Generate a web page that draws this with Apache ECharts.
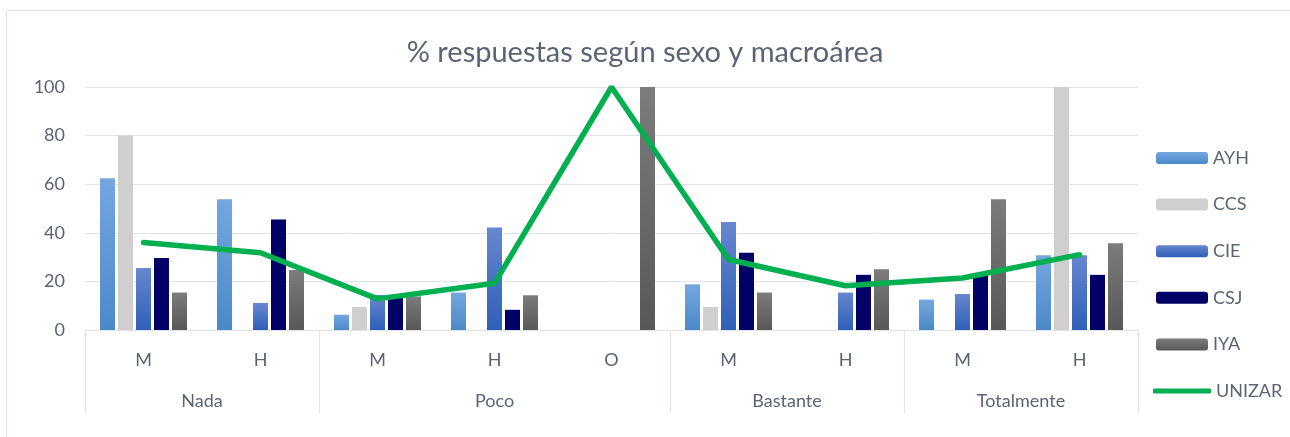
<!DOCTYPE html>
<html>
<head>
<meta charset="utf-8">
<script src="https://cdn.jsdelivr.net/npm/echarts@6/dist/echarts.min.js"></script>
<style>
  html, body { margin: 0; padding: 0; background: #fff; }
  #chart { width: 1290px; height: 437px; }
</style>
</head>
<body>
<div id="chart"></div>
<script>
// datos
const categories = ['M', 'H', 'M', 'H', 'O', 'M', 'H', 'M', 'H'];
const groups = ['Nada', 'Poco', 'Bastante', 'Totalmente'];
const groupSizes = [2, 3, 2, 2];
const yTicks = [0, 20, 40, 60, 80, 100];

const AYH = [62.5, 53.8, 6.3, 15.4, 0, 18.8, 0, 12.5, 30.8];
const CCS = [80, 0, 9.5, 0, 0, 9.5, 0, 0, 100];
const CIE = [25.5, 11.1, 14.4, 42.2, 0, 44.4, 15.4, 14.8, 30.8];
const CSJ = [29.6, 45.5, 13.6, 8.3, 0, 31.8, 22.7, 23, 22.7];
const IYA = [15.4, 24.7, 13.8, 14.3, 100, 15.4, 25, 53.8, 35.7];
const UNIZAR = [36, 31.8, 12.8, 19.2, 100, 29, 18.2, 21.4, 31];

const txt = '#5b6475';
const gridCol = '#dfe3ea';
const font = 'Lato';
const fs = 18;

function grad(top, bottom) {
  return new echarts.graphic.LinearGradient(0, 0, 0, 1, [
    { offset: 0, color: top },
    { offset: 1, color: bottom }
  ]);
}

// límites y centros de los grupos en la escala 0..9
const bounds = [0];
const centers = [];
groupSizes.forEach(n => {
  const start = bounds[bounds.length - 1];
  centers.push(start + n / 2);
  bounds.push(start + n);
});

function bar(name, data, color) {
  return {
    name: name,
    type: 'bar',
    data: data,
    barWidth: 15,
    barGap: '20%',
    itemStyle: { color: color }
  };
}

const legendText = { color: txt, fontSize: fs, fontFamily: font, lineHeight: 18 };

const chart = echarts.init(document.getElementById('chart'));
chart.setOption({
  animation: false,
  title: {
    text: '% respuestas según sexo y macroárea',
    left: 'center',
    top: 33,
    textStyle: { color: txt, fontSize: 29, fontWeight: 'normal', fontFamily: font }
  },
  legend: [{
    orient: 'vertical',
    left: 1151,
    top: 144,
    itemWidth: 52,
    itemHeight: 12,
    itemGap: 28.6,
    textStyle: legendText,
    data: ['AYH', 'CCS', 'CIE', 'CSJ', 'IYA']
  }, {
    left: 1148,
    top: 377,
    itemWidth: 58,
    itemHeight: 5,
    textStyle: legendText,
    data: [{ name: 'UNIZAR', icon: 'roundRect' }]
  }],
  graphic: [{
    type: 'rect',
    shape: { x: 6.5, y: 10.5, width: 1300, height: 450 },
    style: { fill: 'none', stroke: gridCol, lineWidth: 1 },
    silent: true
  }],
  grid: { left: 85, right: 152, top: 87, bottom: 107 },
  xAxis: [{
    type: 'category',
    data: categories,
    axisLine: { lineStyle: { color: gridCol } },
    axisTick: { show: false },
    axisLabel: { color: txt, fontSize: fs, fontFamily: font, margin: 21 }
  }, {
    type: 'value',
    min: 0,
    max: 9,
    position: 'bottom',
    axisLine: { show: false },
    splitLine: { show: false },
    axisTick: {
      show: true,
      customValues: bounds,
      length: 83,
      lineStyle: { color: gridCol }
    },
    axisLabel: {
      customValues: centers,
      color: txt,
      fontSize: fs,
      fontFamily: font,
      margin: 62,
      formatter: v => groups[centers.indexOf(v)] || ''
    }
  }],
  yAxis: {
    type: 'value',
    min: 0,
    max: 100,
    interval: 20,
    axisLine: { show: false },
    axisTick: { show: false },
    splitLine: { lineStyle: { color: gridCol } },
    axisLabel: {
      color: txt, fontSize: fs, fontFamily: font, margin: 20,
      formatter: v => yTicks.includes(v) ? String(v) : ''
    }
  },
  series: [
    bar('AYH', AYH, grad('#75a7df', '#4a89c8')),
    bar('CCS', CCS, '#d0cece'),
    bar('CIE', CIE, grad('#6787cf', '#2f60b9')),
    bar('CSJ', CSJ, '#000066'),
    bar('IYA', IYA, grad('#7c7c7c', '#585858')),
    {
      name: 'UNIZAR',
      type: 'line',
      data: UNIZAR,
      symbol: 'none',
      lineStyle: { color: '#00b050', width: 5.5, cap: 'round' },
      itemStyle: { color: '#00b050' },
      z: 5
    }
  ]
});
</script>
</body>
</html>
